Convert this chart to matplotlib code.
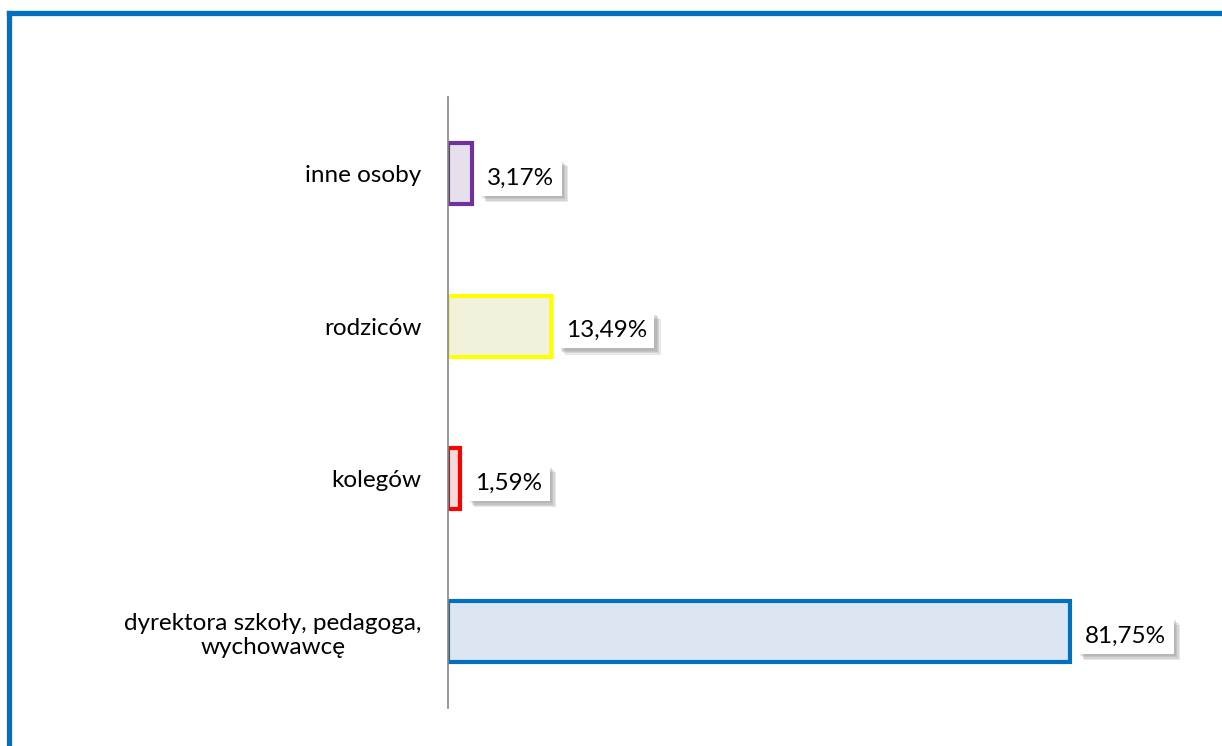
import matplotlib.pyplot as plt
import matplotlib.patheffects as pe
from matplotlib.lines import Line2D

plt.rcParams['font.family'] = ['Lato', 'DejaVu Sans']

categories = ["dyrektora szkoły, pedagoga,\nwychowawcę", "kolegów", "rodziców", "inne osoby"]
values = [81.75, 1.59, 13.49, 3.17]
labels = ["81,75%", "1,59%", "13,49%", "3,17%"]
edge_colors = ["#0070C0", "#FF0000", "#FFFF00", "#7030A0"]
fill_colors = ["#DCE6F2", "#F2DCDB", "#F2F2DC", "#E6E0EC"]

fig = plt.figure(figsize=(12.22, 7.46), dpi=100)
ax = fig.add_axes([448 / 1222, 1 - 708 / 746, 761 / 1222, (708 - 97) / 746])

y = range(len(categories))
ax.barh(y, values, height=0.4, color=fill_colors, edgecolor=edge_colors, linewidth=3)

shadow = [pe.SimplePatchShadow(offset=(o, -o), shadow_rgbFace="#7f7f7f", alpha=0.18)
          for o in (1.5, 2.5, 3.5, 4.5)]
for i, (v, lab) in enumerate(zip(values, labels)):
    t = ax.text(v + 2.0, i - 0.03, lab, va="center", ha="left", fontsize=17.5, color="black",
                bbox=dict(boxstyle="square,pad=0.3", facecolor="white", edgecolor="none"))
    t.get_bbox_patch().set_path_effects(shadow + [pe.Normal()])

ax.set_xlim(0, 100)
ax.set_ylim(-0.5, len(categories) - 0.5)
ax.set_yticks(list(y))
ax.set_yticklabels(categories, fontsize=17.5, multialignment="center")
ax.tick_params(axis="y", length=0, pad=19)
ax.set_xticks([])
for side in ["top", "right", "bottom"]:
    ax.spines[side].set_visible(False)
ax.spines["left"].set_color("#868686")
ax.spines["left"].set_linewidth(1.2)

# outer frame (only top and left visible)
x0, y0 = 8.5 / 1222, 1 - 12.5 / 746
fig.add_artist(Line2D([x0, 1.0], [y0, y0], transform=fig.transFigure, color="#0070C0", linewidth=3.8))
fig.add_artist(Line2D([x0, x0], [y0, 0.0], transform=fig.transFigure, color="#0070C0", linewidth=3.8))

fig.savefig("out.png", dpi=100)
